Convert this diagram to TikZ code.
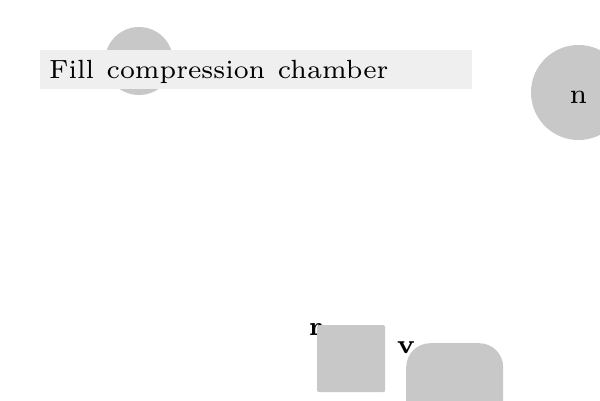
\documentclass[tikz,border=0pt]{standalone}
\usetikzlibrary{positioning}
\definecolor{shapegrey}{HTML}{C8C8C8}
\definecolor{bandgrey}{HTML}{EFEFEF}
\newcommand{\bigtxt}[1]{\scalebox{3.76}{\fontsize{7}{8}\selectfont #1}}
\newcommand{\ntxt}[1]{\scalebox{4}{\fontsize{7}{8}\selectfont #1}}
\newcommand{\bigbold}[1]{\scalebox{3.8}{\fontsize{7}{8}\selectfont\bfseries #1}}
\tikzset{
  blob/.style={fill=shapegrey, draw=none, inner sep=0pt},
  band/.style={fill=bandgrey, draw=none},
  boldlbl/.style={inner sep=0pt},
}
\begin{document}
\begin{tikzpicture}[x=1pt,y=-1pt]
\useasboundingbox (0,0) rectangle (600,400);
\clip (0,0) rectangle (600,400);
\fill[white] (0,0) rectangle (600,400);
% circle behind the title band
\node[blob, circle, minimum size=68pt] (c1) at (139,61) {};
% title band
\node[band, anchor=west, minimum width=432pt, minimum height=39pt,
      text width=414pt, inner xsep=9pt, inner ysep=0pt, align=left,
      text height=22pt, text depth=4.4pt]
      (title) at (40,69.5) {\bigtxt{Fill compression chamber}};
% right circle
\node[blob, circle, minimum size=95pt, text height=24pt, text depth=2.4pt] (n) at (578.5,92.5) {\ntxt{n}};
% label r and square
\node[boldlbl, anchor=base] (rl) at (316,335) {\bigbold{r}};
\node[blob, rounded corners=2pt, anchor=north west, minimum width=68pt, minimum height=67pt] (sq) at (317,325) {};
% label v and rounded block
\node[boldlbl, anchor=base] (vl) at (406,353) {\bigbold{v}};
\node[blob, rounded corners=24pt, anchor=north west, minimum width=97pt, minimum height=110pt] (blk) at (406,343) {};
\end{tikzpicture}
\end{document}
